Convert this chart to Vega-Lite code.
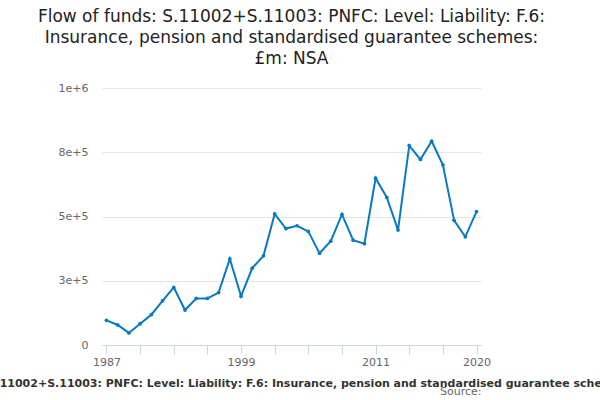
{
  "$schema": "https://vega.github.io/schema/vega-lite/v6.json",
  "autosize": {"type": "fit", "contains": "padding"},
  "width": 600,
  "height": 400,
  "padding": {"left": 5, "right": 22, "top": 8, "bottom": 4},
  "config": {
    "locale": {"number": {"decimal": ".", "thousands": " ", "grouping": [3], "currency": ["", ""]}},
    "font": "DejaVu Sans",
    "view": {"stroke": null}
  },
  "title": {
    "text": ["Flow of funds: S.11002+S.11003: PNFC: Level: Liability: F.6:", "Insurance, pension and standardised guarantee schemes:", "£m: NSA"],
    "fontSize": 17,
    "fontWeight": "normal",
    "color": "#222",
    "lineHeight": 21,
    "offset": 14
  },
  "data": {"values": [
    {"year": 1987, "value": 96000}, {"year": 1988, "value": 78000}, {"year": 1989, "value": 47000},
    {"year": 1990, "value": 83000}, {"year": 1991, "value": 118000}, {"year": 1992, "value": 172000},
    {"year": 1993, "value": 224000}, {"year": 1994, "value": 136000}, {"year": 1995, "value": 181000},
    {"year": 1996, "value": 181000}, {"year": 1997, "value": 204000}, {"year": 1998, "value": 335000},
    {"year": 1999, "value": 190000}, {"year": 2000, "value": 299000}, {"year": 2001, "value": 347000},
    {"year": 2002, "value": 510000}, {"year": 2003, "value": 453000}, {"year": 2004, "value": 464000},
    {"year": 2005, "value": 442000}, {"year": 2006, "value": 357000}, {"year": 2007, "value": 404000},
    {"year": 2008, "value": 508000}, {"year": 2009, "value": 408000}, {"year": 2010, "value": 394000},
    {"year": 2011, "value": 649000}, {"year": 2012, "value": 574000}, {"year": 2013, "value": 447000},
    {"year": 2014, "value": 776000}, {"year": 2015, "value": 722000}, {"year": 2016, "value": 793000},
    {"year": 2017, "value": 701000}, {"year": 2018, "value": 485000}, {"year": 2019, "value": 421000},
    {"year": 2020, "value": 519000}
  ]},
  "layer": [
    {
      "mark": {"type": "line", "color": "#0a7ac0", "strokeWidth": 2, "point": {"color": "#0a7ac0", "size": 14}},
      "encoding": {
        "x": {
          "field": "year", "type": "quantitative",
          "scale": {"domain": [1986.6, 2020.4], "nice": false, "zero": false},
          "axis": {
            "orient": "bottom",
            "values": [1987, 1990, 1993, 1996, 1999, 2002, 2005, 2008, 2011, 2014, 2017, 2020],
            "labelExpr": "indexof([1987, 1999, 2011, 2020], datum.value) >= 0 ? datum.value : ''",
            "grid": false, "domainColor": "#ccd6eb", "tickColor": "#ccd6eb", "tickSize": 9,
            "labelColor": "#666", "labelFontSize": 11, "labelFlush": false,
            "title": "Flow of funds: S.11002+S.11003: PNFC: Level: Liability: F.6: Insurance, pension and standardised guarantee schemes: £m: NSA",
            "titleFontSize": 11, "titleFontWeight": "bold", "titleColor": "#333", "titlePadding": 10
          }
        },
        "y": {
          "field": "value", "type": "quantitative",
          "scale": {"domain": [0, 1000000]},
          "axis": {
            "values": [0, 250000, 500000, 750000, 1000000], "format": ",",
            "title": null, "domain": false, "ticks": false, "gridColor": "#e6e6e6",
            "labelColor": "#666", "labelFontSize": 11, "labelPadding": 14
          }
        }
      }
    },
    {
      "mark": {"type": "point", "opacity": 0},
      "encoding": {
        "x": {
          "field": "year", "type": "quantitative",
          "scale": {"domain": [1986.6, 2020.4], "nice": false, "zero": false},
          "axis": {
            "orient": "bottom", "offset": 40,
            "domain": false, "ticks": false, "labels": false, "grid": false,
            "title": "Source:", "titleAnchor": "end", "titleFontSize": 11,
            "titleFontWeight": "normal", "titleColor": "#666", "titlePadding": 0
          }
        },
        "y": {"field": "value", "type": "quantitative"}
      }
    }
  ],
  "resolve": {"axis": {"x": "independent"}}
}
